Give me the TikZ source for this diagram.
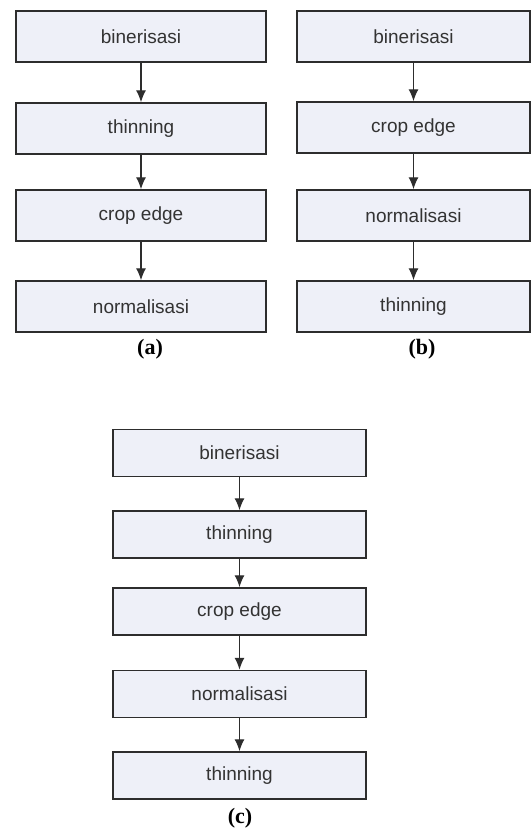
\documentclass[tikz,border=0pt]{standalone}
\usepackage{fontspec}
\setmainfont{Liberation Serif}
\newfontfamily\boxfont{Liberation Sans}
\usetikzlibrary{arrows.meta}
\definecolor{boxfill}{RGB}{238,240,248}
\definecolor{boxline}{RGB}{45,45,45}
\tikzset{
  stepbox/.style={draw=boxline, fill=boxfill, line width=1.4pt, inner sep=0pt,
    font=\boxfont\fontsize{19}{22}\selectfont, text=black!80},
  flow/.style={draw=boxline, line width=1.3pt, -{Latex[length=12pt,width=10pt]}},
  caption/.style={font=\bfseries\fontsize{22}{26}\selectfont}
}
\begin{document}
\begin{tikzpicture}[x=1pt,y=-1pt]
\useasboundingbox (0,0) rectangle (532,831);
% (a)
\begin{scope}[every node/.append style={minimum width=250pt, minimum height=51pt}]
\node[stepbox] (a1) at (141,36.5) {binerisasi};
\node[stepbox] (a2) at (141,128.5) {thinning};
\node[stepbox] (a3) at (141,215.5) {crop edge};
\node[stepbox] (a4) at (141,306.5) {normalisasi};
\end{scope}
\node[caption] (la) at (150,349) {(a)};
\draw[flow] (a1) -- (a2);
\draw[flow] (a2) -- (a3);
\draw[flow] (a3) -- (a4);
% (b)
\begin{scope}[every node/.append style={minimum width=233pt, minimum height=51pt}]
\node[stepbox] (b1) at (413.5,36.5) {binerisasi};
\node[stepbox] (b2) at (413.5,127.5) {crop edge};
\node[stepbox] (b3) at (413.5,215.5) {normalisasi};
\node[stepbox] (b4) at (413.5,306.5) {thinning};
\end{scope}
\node[caption] (lb) at (422,349) {(b)};
\draw[flow] (b1) -- (b2);
\draw[flow] (b2) -- (b3);
\draw[flow] (b3) -- (b4);
% (c)
\begin{scope}[every node/.append style={minimum width=253pt, minimum height=47pt}]
\node[stepbox] (c1) at (239.5,453) {binerisasi};
\node[stepbox] (c2) at (239.5,534.5) {thinning};
\node[stepbox] (c3) at (239.5,611.5) {crop edge};
\node[stepbox] (c4) at (239.5,694) {normalisasi};
\node[stepbox] (c5) at (239.5,775.5) {thinning};
\end{scope}
\node[caption] (lc) at (240,818) {(c)};
\draw[flow] (c1) -- (c2);
\draw[flow] (c2) -- (c3);
\draw[flow] (c3) -- (c4);
\draw[flow] (c4) -- (c5);
\end{tikzpicture}
\end{document}
